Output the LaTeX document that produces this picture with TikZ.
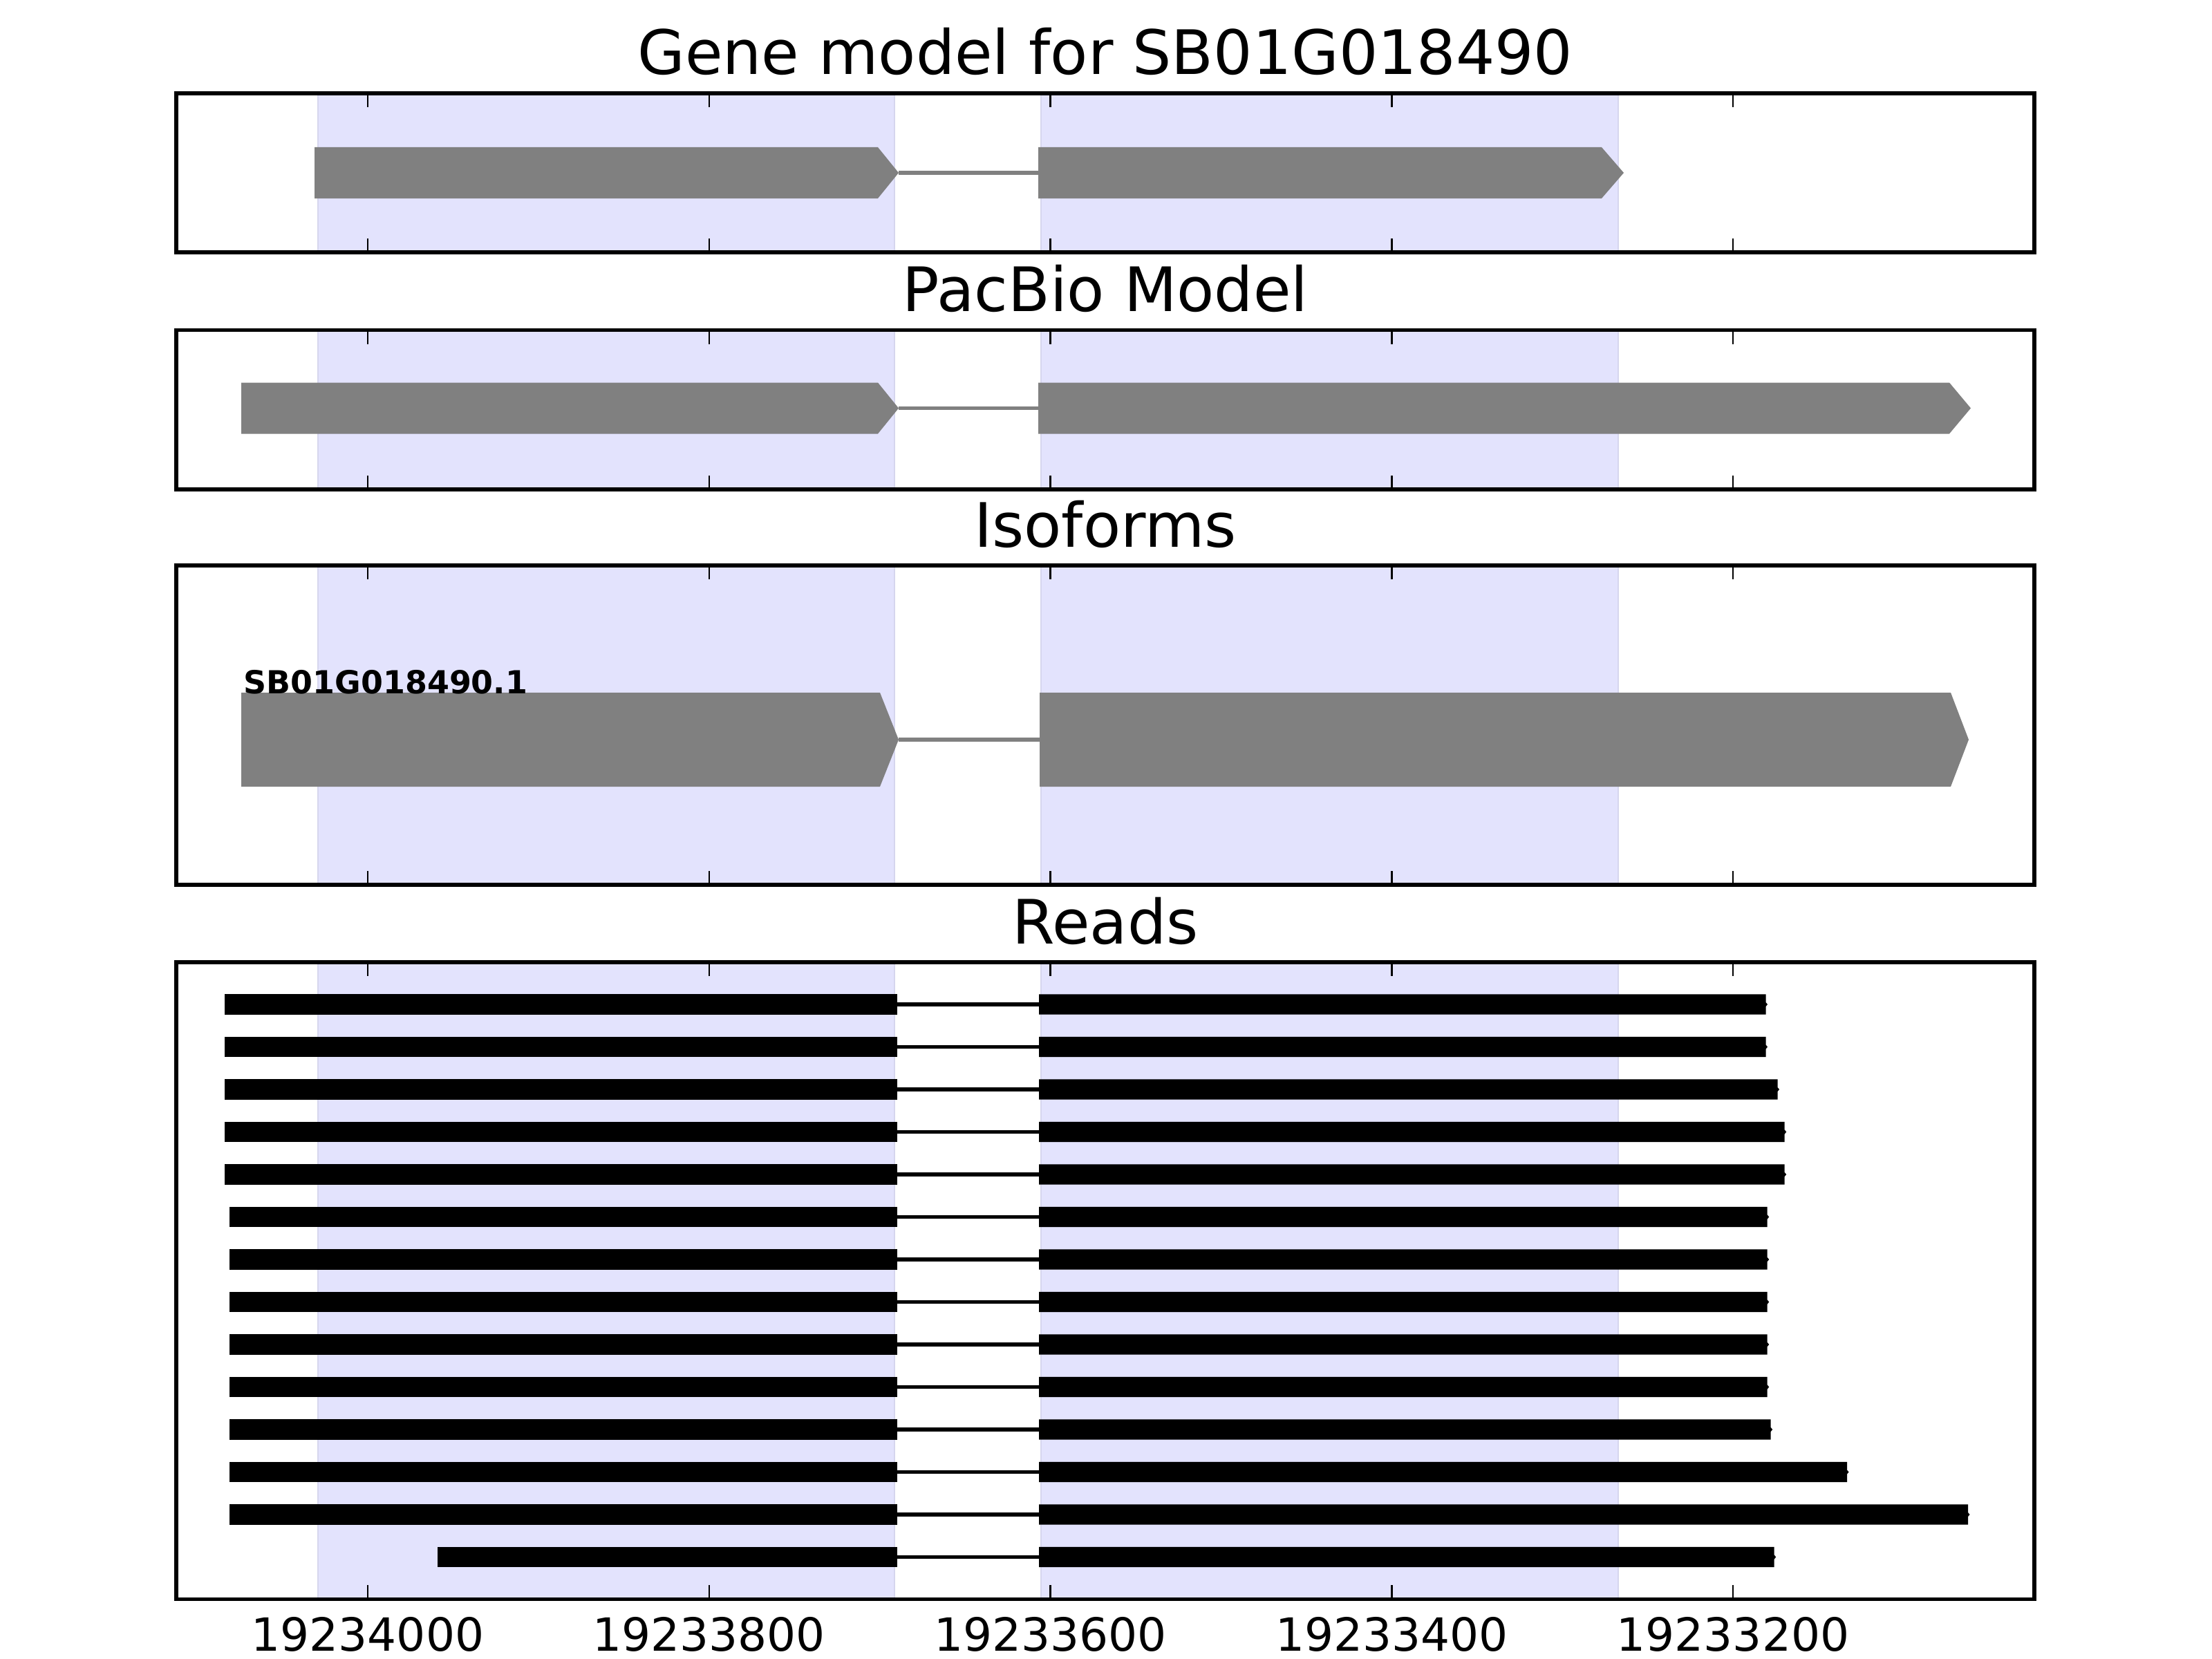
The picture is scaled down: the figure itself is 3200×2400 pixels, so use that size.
\documentclass[tikz,border=0pt]{standalone}
\usepackage{fontspec}
\setmainfont{DejaVu Sans}
\usepackage{tikz}

\definecolor{genegray}{RGB}{128,128,128}
\definecolor{spanfill}{RGB}{227,227,253}
\definecolor{spanedge}{RGB}{214,214,238}

\tikzset{
  paneltitle/.style={anchor=base, inner sep=0pt, font=\fontsize{25.2}{30}\selectfont},
  ticklabel/.style={anchor=base, inner sep=0pt, font=\fontsize{18.8}{22}\selectfont},
  isolabel/.style={anchor=base west, inner sep=0pt, font=\bfseries\fontsize{13.05}{15}\selectfont},
  frame/.style={draw=black, line width=1.5pt},
  tickmark/.style={draw=black, line width=0.7pt},
  geneintron/.style={draw=genegray, line width=1.6pt},
  readintron/.style={draw=black, line width=1.5pt}
}

\newcommand{\exonarrow}[6]{% fill, x start, body end, tip, y centre, half height
  \fill[#1] (#2,#5-#6) -- (#3,#5-#6) -- (#4,#5) -- (#3,#5+#6) -- (#2,#5+#6) -- cycle;}

\begin{document}
\begin{tikzpicture}[x=0.01cm, y=-0.01cm]
  \useasboundingbox (0,0) rectangle (3200,2400);

  % shaded exon spans
  \foreach \top/\bot in {135/365, 477.5/708, 818/1280, 1392/2313.3} {
    \fill[spanfill] (460,\top) rectangle (1294,\bot);
    \fill[spanfill] (1506,\top) rectangle (2341,\bot);
    \foreach \xe in {460,1294,1506,2341}
      \draw[spanedge, line width=0.8pt] (\xe,\top) -- (\xe,\bot);
  }

  % gene model
  \exonarrow{genegray}{455}{1270}{1300}{250}{37}
  \draw[geneintron] (1300,250) -- (1502,250);
  \exonarrow{genegray}{1502}{2317}{2349}{250}{37}

  % pacbio model
  \exonarrow{genegray}{349}{1270}{1300}{590.5}{37}
  \draw[geneintron] (1300,590.5) -- (1502,590.5);
  \exonarrow{genegray}{1502}{2820}{2851}{590.5}{37}

  % isoform
  \exonarrow{genegray}{349}{1273}{1300}{1070}{68}
  \draw[geneintron] (1300,1070) -- (1504,1070);
  \exonarrow{genegray}{1504}{2822}{2848}{1070}{68}
  \node[isolabel] (iso1) at (352,1003) {SB01G018490.1};

  % reads
  \foreach \s/\e [count=\k from 0] in {325/2554.5, 325/2554.5, 325/2571.5, 325/2581.7,
      325/2581.7, 332/2556.7, 332/2556.7, 332/2556.7, 332/2556.7, 332/2556.7,
      332/2561.7, 332/2672, 332/2847, 632.5/2566.7} {
    \pgfmathsetmacro{\yc}{1453+61.5*\k}
    \fill[black] (\s,\yc-14.7) rectangle (1297.5,\yc+14.7);
    \draw[readintron] (1297.5,\yc) -- (1503,\yc);
    \fill[black] (1503,\yc-14.7) -- (\e,\yc-14.7) -- (\e,\yc-3) -- (\e+2.5,\yc)
      -- (\e,\yc+3) -- (\e,\yc+14.7) -- (1503,\yc+14.7) -- cycle;
  }

  % ticks and frames
  \foreach \top/\bot in {135/365, 477.5/708, 818/1280, 1392/2313.3} {
    \foreach \i in {0,...,4} {
      \draw[tickmark] (532+493.75*\i,\top) -- (532+493.75*\i,\top+20);
      \draw[tickmark] (532+493.75*\i,\bot) -- (532+493.75*\i,\bot-20);
    }
    \draw[frame] (255,\top) rectangle (2943,\bot);
  }

  \node[paneltitle] (title1) at (1599,107.7) {Gene model for SB01G018490};
  \node[paneltitle] (title2) at (1599,450.5) {PacBio Model};
  \node[paneltitle] (title3) at (1599,791) {Isoforms};
  \node[paneltitle] (title4) at (1599,1365) {Reads};

  \foreach \lab [count=\i from 0] in {19234000,19233800,19233600,19233400,19233200}
    \node[ticklabel] (tick\i) at (532+493.75*\i,2388) {\lab};
\end{tikzpicture}
\end{document}
